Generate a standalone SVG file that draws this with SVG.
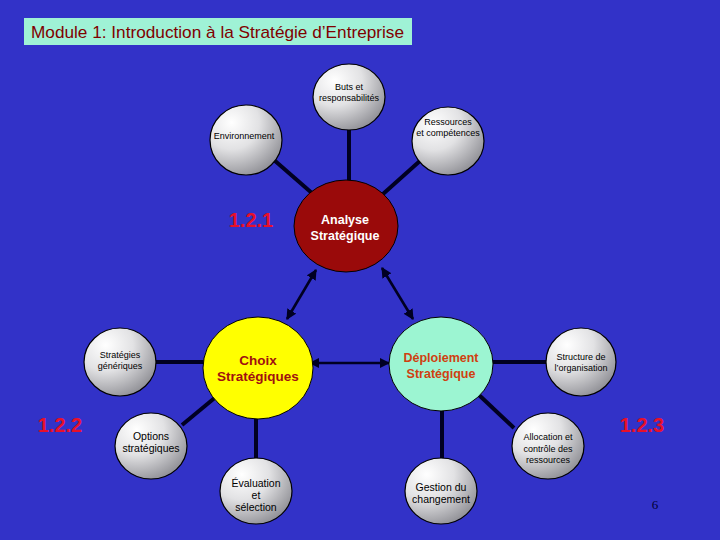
<svg xmlns="http://www.w3.org/2000/svg" width="720" height="540" viewBox="0 0 720 540">
<defs>
<radialGradient id="gray" cx="0.3" cy="0.25" r="0.85" fx="0.3" fy="0.25">
<stop offset="0" stop-color="#ffffff"/>
<stop offset="0.45" stop-color="#e2e2e4"/>
<stop offset="1" stop-color="#8a8a90"/>
</radialGradient>
<marker id="ah" viewBox="0 0 10 10" refX="9" refY="5" markerWidth="4" markerHeight="4" orient="auto-start-reverse" markerUnits="strokeWidth">
<path d="M0,0 L10,5 L0,10 z" fill="#000022"/>
</marker>
<style>
.bg{fill:#3232c8}
.small{fill:url(#gray);stroke:#000;stroke-width:1.2}
.st{font-family:"Liberation Sans",Arial,sans-serif;font-size:9px;fill:#000;text-anchor:middle}
.st2{font-family:"Liberation Sans",Arial,sans-serif;font-size:10.5px;fill:#000;text-anchor:middle}
.big{font-family:"Liberation Sans",Arial,sans-serif;font-weight:bold;text-anchor:middle}
.num{font-family:"Liberation Sans",Arial,sans-serif;font-weight:bold;font-size:20px;fill:#e8102a;text-anchor:middle}
.line{stroke:#000022;stroke-width:4;fill:none}
.arr{stroke:#000022;stroke-width:2.6;fill:none;marker-start:url(#ah);marker-end:url(#ah)}
</style>
</defs>
<rect class="bg" x="0" y="0" width="720" height="540"/>
<g id="title">
<rect x="24" y="18" width="388" height="27" fill="#9ff2d6"/>
<text x="31" y="38" font-family="Liberation Sans,Arial,sans-serif" font-size="17" fill="#800000" textLength="373" lengthAdjust="spacingAndGlyphs">Module 1: Introduction à la Stratégie d’Entreprise</text>
</g>
<g id="connectors">
<line class="line" x1="349" y1="130" x2="349" y2="181"/>
<line class="line" x1="274" y1="160" x2="313" y2="194"/>
<line class="line" x1="421" y1="160" x2="383" y2="194"/>
<line class="arr" x1="316" y1="270" x2="287" y2="319"/>
<line class="arr" x1="382" y1="268" x2="413" y2="319"/>
<line class="arr" x1="310" y1="363" x2="389" y2="363"/>
<line class="line" x1="156" y1="362" x2="204" y2="362"/>
<line class="line" x1="217" y1="396" x2="182" y2="425"/>
<line class="line" x1="256" y1="418" x2="256" y2="458"/>
<line class="line" x1="493" y1="362" x2="546" y2="362"/>
<line class="line" x1="479" y1="395" x2="514" y2="428"/>
<line class="line" x1="442" y1="410" x2="442" y2="458"/>
</g>
<g id="buts"><ellipse class="small" cx="349" cy="97" rx="36" ry="33"/><text class="st" x="349" y="90">Buts et</text><text class="st" x="349" y="101">responsabilités</text></g>
<g id="environnement"><ellipse class="small" cx="246" cy="140" rx="36" ry="35"/><text class="st" x="244" y="139">Environnement</text></g>
<g id="ressources"><ellipse class="small" cx="448" cy="141" rx="36" ry="34"/><text class="st" x="448" y="125">Ressources</text><text class="st" x="448" y="136">et compétences</text></g>
<g id="analyse"><ellipse cx="346" cy="226" rx="52" ry="46" fill="#9a0a0a" stroke="#000" stroke-width="1"/><text class="big" x="345" y="224" font-size="12.5" fill="#ffffff">Analyse</text><text class="big" x="345" y="240" font-size="12.5" fill="#ffffff">Stratégique</text></g>
<g id="choix"><ellipse cx="258" cy="368" rx="55" ry="51" fill="#ffff00" stroke="#000" stroke-width="1"/><text class="big" x="258" y="365" font-size="13.5" fill="#a01010">Choix</text><text class="big" x="258" y="381" font-size="13.5" fill="#a01010">Stratégiques</text></g>
<g id="deploiement"><ellipse cx="441" cy="364" rx="52" ry="47" fill="#9cf5d2" stroke="#000" stroke-width="1"/><text class="big" x="441" y="362" font-size="12.5" fill="#d04010">Déploiement</text><text class="big" x="441" y="378" font-size="12.5" fill="#d04010">Stratégique</text></g>
<g id="strategies"><ellipse class="small" cx="120" cy="362" rx="36" ry="34"/><text class="st" x="120" y="358">Stratégies</text><text class="st" x="120" y="369">génériques</text></g>
<g id="structure"><ellipse class="small" cx="581" cy="362" rx="35" ry="34"/><text class="st" x="581" y="360">Structure de</text><text class="st" x="581" y="371">l’organisation</text></g>
<g id="options"><ellipse class="small" cx="151" cy="446" rx="36" ry="33"/><text class="st2" x="151" y="440">Options</text><text class="st2" x="151" y="452">stratégiques</text></g>
<g id="evaluation"><ellipse class="small" cx="256" cy="491" rx="36" ry="33"/><text class="st2" x="256" y="487">Évaluation</text><text class="st2" x="256" y="499">et</text><text class="st2" x="256" y="511">sélection</text></g>
<g id="gestion"><ellipse class="small" cx="441" cy="491" rx="36" ry="33"/><text class="st2" x="441" y="491">Gestion du</text><text class="st2" x="441" y="503">changement</text></g>
<g id="allocation"><ellipse class="small" cx="548" cy="446" rx="36" ry="33"/><text class="st" x="548" y="440">Allocation et</text><text class="st" x="548" y="452">contrôle des</text><text class="st" x="548" y="463">ressources</text></g>
<g id="labels">
<text class="num" x="251" y="227">1.2.1</text>
<text class="num" x="60" y="432">1.2.2</text>
<text class="num" x="642" y="432">1.2.3</text>
<text x="655" y="509" font-family="Liberation Serif,serif" font-size="13" fill="#000033" text-anchor="middle">6</text>
</g>
</svg>
